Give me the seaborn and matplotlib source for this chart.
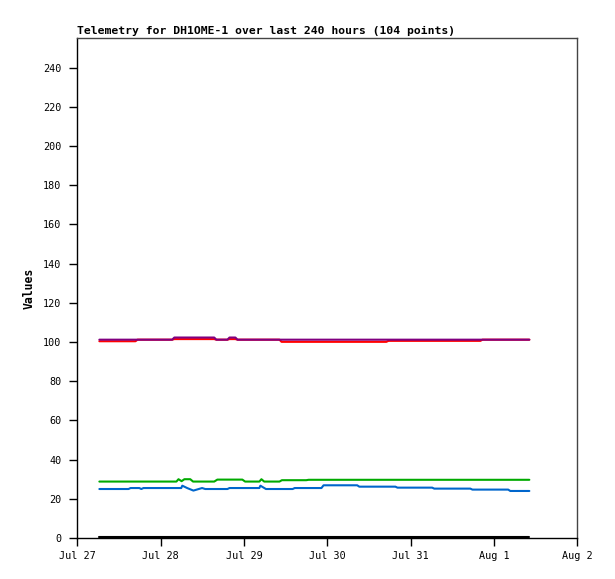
import pandas as pd
import numpy as np
import matplotlib
matplotlib.use("Agg")
import matplotlib.pyplot as plt
import seaborn as sns

# hours after Jul 27 00:00 and values at the change points
purple_t = [6.3, 27.3, 27.9, 39.4, 40.0, 43.2, 43.8, 45.5, 46.1, 130.2]
purple_v = [101.2, 101.2, 102.3, 102.3, 101.2, 101.2, 102.3, 102.3, 101.2, 101.2]

red_t = [6.3, 16.7, 17.3, 27.3, 27.9, 39.4, 40.0, 43.2, 43.8, 45.5, 46.1,
         58.2, 58.8, 89.0, 89.6, 116.1, 116.7, 130.2]
red_v = [100.4, 100.4, 101.2, 101.2, 101.5, 101.5, 101.2, 101.2, 101.5, 101.5, 101.2,
         101.2, 100.1, 100.1, 100.6, 100.6, 101.2, 101.2]

green_t = [6.3, 28.5, 29.1, 30.0, 30.8, 32.5, 33.3, 39.4, 40.3, 47.5, 48.3,
           52.4, 53.0, 53.8, 58.2, 58.9, 65.9, 66.6, 130.2]
green_v = [28.8, 28.8, 30.0, 29.0, 30.0, 30.0, 28.8, 28.8, 29.8, 29.8, 28.8,
           28.8, 30.0, 28.8, 28.8, 29.5, 29.5, 29.7, 29.7]

blue_t = [6.3, 14.7, 15.3, 17.8, 18.4, 19.0, 29.9, 30.2, 31.6, 33.4, 35.9, 36.8,
          43.2, 43.8, 52.4, 52.7, 54.3, 62.0, 62.6, 70.3, 70.9, 80.6, 81.2,
          91.6, 92.2, 102.2, 102.8, 113.2, 113.8, 124.1, 124.7, 130.2]
blue_v = [25.0, 25.0, 25.5, 25.5, 25.0, 25.5, 25.5, 26.7, 25.5, 24.2, 25.5, 25.0,
          25.0, 25.5, 25.5, 26.7, 25.0, 25.0, 25.5, 25.5, 26.9, 26.9, 26.2,
          26.2, 25.7, 25.7, 25.2, 25.2, 24.7, 24.7, 24.0, 24.0]

black_t = [6.3, 130.2]
black_v = [0.5, 0.5]

tick_labels = ["Jul 27", "Jul 28", "Jul 29", "Jul 30", "Jul 31", "Aug 1", "Aug 2"]
y_ticks = list(range(0, 241, 20))

start = pd.Timestamp("2025-07-27")
frames = []
for name, t, v in [("black", black_t, black_v), ("blue", blue_t, blue_v),
                   ("green", green_t, green_v), ("red", red_t, red_v),
                   ("purple", purple_t, purple_v)]:
    frames.append(pd.DataFrame({"time": start + pd.to_timedelta(t, unit="h"),
                                "value": v, "series": name}))
df = pd.concat(frames, ignore_index=True)

palette = {"black": "#000000", "blue": "#0066cc", "green": "#00aa00",
           "red": "#ff0000", "purple": "#800080"}

sns.set_style("white")
plt.rcParams["font.family"] = ["DejaVu Sans Mono"]
plt.rcParams["text.color"] = "black"
plt.rcParams["axes.labelcolor"] = "black"

fig = plt.figure(figsize=(6.15, 5.79), dpi=100)
ax = fig.add_axes([0.126, 0.0708, 0.8126, 0.8631])
sns.lineplot(data=df, x="time", y="value", hue="series", palette=palette,
             estimator=None, sort=False, linewidth=1.5, legend=False, ax=ax)

ax.set_ylim(0, 255)
ax.set_yticks(y_ticks)
ax.set_xlim(start, start + pd.Timedelta(days=6))
ax.set_xticks([start + pd.Timedelta(days=i) for i in range(7)])
ax.set_xticklabels(tick_labels)
ax.tick_params(axis="both", direction="out", length=6, width=1, colors="black",
               labelsize=7.3)
ax.tick_params(axis="y", pad=5.5)
ax.tick_params(axis="x", pad=3.5)
ax.tick_params(left=True, bottom=True)

for side in ["left", "bottom"]:
    ax.spines[side].set_color("black")
    ax.spines[side].set_linewidth(1)
for side in ["top", "right"]:
    ax.spines[side].set_color("#444444")
    ax.spines[side].set_linewidth(1)

ax.set_xlabel("")
ax.set_ylabel("Values", fontsize=8.3, fontweight="bold", color="black")
ax.yaxis.set_label_coords(-0.083, 0.5)
ax.set_title("Telemetry for DH1OME-1 over last 240 hours (104 points)",
             loc="left", fontsize=8.2, fontweight="bold", pad=3, color="black")

fig.savefig("out.png", dpi=100)
